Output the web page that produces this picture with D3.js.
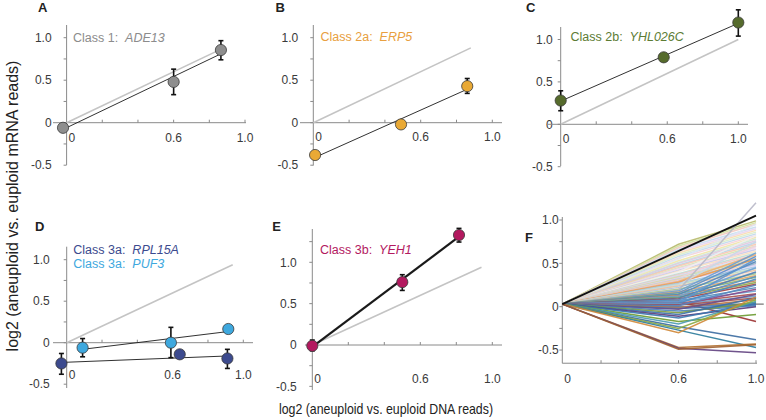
<!DOCTYPE html>
<html><head><meta charset="utf-8">
<script src="https://cdn.jsdelivr.net/npm/d3@7/dist/d3.min.js"></script>
<style>
body{margin:0;background:#fff;}
svg{display:block;font-family:"Liberation Sans",Arial,Helvetica,sans-serif;}
</style>
</head><body>
<svg id="chart" width="766" height="420"></svg>
<script>
// ---------------- DATA ----------------
const xTickLabels = ["0", "0.6", "1.0"];
const xTickValues = [0, 0.6, 1.0];
const yTickLabels = ["-0.5", "0", "0.5", "1.0"];
const yTickValues = [-0.5, 0, 0.5, 1.0];
const yMinorTicks = [-0.5, -0.25, 0, 0.25, 0.5, 0.75, 1.0, 1.25];
const xMinorTicks = [0.2, 0.4, 0.6, 0.8, 1.0];

const panelLetters = ["A", "B", "C", "D", "E", "F"];

// Panel A  Class 1: ADE13
const aX  = [-0.02, 0.60, 0.865];
const aY  = [-0.06, 0.48, 0.855];
const aLo = [null, 0.33, 0.74];
const aHi = [null, 0.63, 0.965];
// Panel B  Class 2a: ERP5
const bX  = [0.01, 0.49, 0.86];
const bY  = [-0.38, -0.02, 0.43];
const bLo = [-0.43, null, 0.345];
const bHi = [-0.34, null, 0.52];
// Panel C  Class 2b: YHL026C
const cX  = [0.0, 0.58, 1.0];
const cY  = [0.28, 0.79, 1.20];
const cLo = [0.16, null, 1.04];
const cHi = [0.395, null, 1.35];
// Panel D  Class 3a: RPL15A
const d1X  = [-0.03, 0.64, 0.91];
const d1Y  = [-0.25, -0.14, -0.19];
const d1Lo = [-0.38, null, -0.31];
const d1Hi = [-0.13, null, -0.08];
// Panel D  Class 3a: PUF3
const d2X  = [0.09, 0.59, 0.915];
const d2Y  = [-0.06, 0.0, 0.165];
const d2Lo = [-0.17, -0.18, null];
const d2Hi = [0.05, 0.185, null];
// Panel E  Class 3b: YEH1
const eX  = [0.0, 0.50, 0.815];
const eY  = [-0.01, 0.76, 1.33];
const eLo = [-0.07, 0.66, 1.245];
const eHi = [0.06, 0.85, 1.41];

// identity (y = x) reference line end per panel A..E
const identityEnd = [0.86, 0.88, 1.0, 0.94, 0.94];

// Panel F: all genes, value at DNA 0, 0.6, 1.0
const fX = [0, 0.6, 1.0];
const fStart = 0.03;
const fAt06 = [0.72,0.70,0.68,0.66,0.64,0.62,0.60,0.58,0.56,0.55,0.53,0.51,0.50,0.48,0.47,0.45,0.44,0.42,0.41,0.40,
  0.38,0.37,0.36,0.35,0.34,0.33,0.32,0.31,0.30,0.29,0.28,0.27,0.26,0.25,0.24,0.22,0.21,0.20,0.19,0.18,
  0.17,0.16,0.15,0.14,0.13,0.12,0.11,0.10,0.09,0.08,0.07,0.06,0.06,0.05,0.04,0.04,0.03,0.02,0.02,0.01,
  0.00,-0.01,-0.02,-0.03,-0.05,-0.07,-0.09,-0.11,-0.13,-0.17,-0.20,-0.23,-0.25,-0.27,-0.30,-0.47,-0.48,-0.49];
const fAt10 = [0.99,0.97,0.95,0.92,0.90,0.88,0.86,0.84,0.82,0.95,0.80,0.78,0.76,0.74,0.72,0.70,0.68,0.66,0.64,0.82,
  0.62,0.60,0.58,0.56,0.54,0.70,0.52,0.50,0.48,0.60,0.55,0.46,0.44,0.75,0.42,0.50,0.40,0.38,1.20,0.62,
  0.36,0.58,0.34,0.52,0.30,0.45,0.28,0.40,0.26,0.35,0.22,-0.17,0.18,0.55,0.15,0.32,0.12,0.20,0.10,0.25,
  0.03,0.08,0.02,0.14,0.01,0.05,0.10,0.00,0.04,-0.09,0.06,-0.38,0.08,-0.47,0.11,-0.43,-0.53,-0.44];
const fColors = ["#b7b96c","#cfe0a0","#f2c9c0","#c6dcf0","#e8d4f0","#f8dcb0","#d8ecc8","#c0d8ec","#f4d0d8","#dde8f4",
  "#f0e4a8","#cce4d8","#e0c8e0","#b8d4e8","#f8c8b0","#d4e4b0","#f0d8e8","#c8c8ec","#f8e0c0","#f0f0f0",
  "#bcdcd0","#f4c4c4","#d0e0f4","#e4d0b8","#c4e0b4","#f0d0e0","#b4cce4","#f8d4a0","#dcc8ec","#f0b070",
  "#e89850","#a8c8e8","#c0dcc0","#c8d8e8","#e8c0a0","#90b8d8","#f4dcd0","#a0c890","#b8b8c8","#6a9fd0",
  "#e0a868","#5b8fc8","#88b070","#4f86c0","#c08858","#6aa0d8","#8aa848","#4a7fb8","#a04040","#5890c8",
  "#508ab8","#9a3030","#6aa0d0","#5f95cf","#a85050","#4c88c4","#70a0c8","#884888","#a05050","#5888c0",
  "#4878b0","#c07840","#3d6fa8","#6a4a8a","#4a80b8","#7a9a40","#3a70a8","#5a3a7a","#3a78b0","#6a9a30",
  "#4a9ab0","#3a6aa0","#8aaa40","#2a7a9a","#d08838","#b07030","#604080","#a06030"];
const fBlackEnd = 1.05;

// ---------------- LAYOUT ----------------
const svg = d3.select("#chart");
const AX = "#8a8a8a";

function mkPanel(p){
  const x = d3.scaleLinear().domain([0,1]).range([p.x0, p.x1]);
  const y = d3.scaleLinear().domain([0,1]).range([p.y0, p.y0 - p.unit]);
  const g = svg.append("g");
  // y axis line
  g.append("line").attr("x1", x(0)).attr("x2", x(0)).attr("y1", p.yTop).attr("y2", p.yBot)
    .attr("stroke", AX).attr("stroke-width", 1);
  // y minor ticks
  yMinorTicks.filter(v => y(v) >= p.yTop - 1 && y(v) <= p.yBot + 1).forEach(v => {
    g.append("line").attr("x1", x(0) - 3).attr("x2", x(0)).attr("y1", y(v)).attr("y2", y(v))
      .attr("stroke", AX).attr("stroke-width", 1);
  });
  // y tick labels
  yTickValues.forEach((v,i) => {
    g.append("text").attr("x", x(0) - p.yGap).attr("y", y(v)).attr("dy", "0.35em")
      .attr("text-anchor", "end").attr("font-size", 12).attr("fill", "#3a3a3a").text(yTickLabels[i]);
  });
  // x axis line
  const xAxisY = p.xAxisVal === undefined ? y(0) : y(p.xAxisVal);
  g.append("line").attr("x1", p.xFrom).attr("x2", p.xTo).attr("y1", xAxisY).attr("y2", xAxisY)
    .attr("stroke", AX).attr("stroke-width", 1);
  xMinorTicks.forEach(v => {
    g.append("line").attr("x1", x(v)).attr("x2", x(v)).attr("y1", xAxisY).attr("y2", xAxisY - 3)
      .attr("stroke", AX).attr("stroke-width", 1);
  });
  xTickValues.forEach((v,i) => {
    g.append("text").attr("x", v === 0 ? x(0) + 2 : x(v)).attr("y", xAxisY + p.xLabOff).attr("dy", "0.35em")
      .attr("text-anchor", v === 0 ? "start" : "middle").attr("font-size", 12).attr("fill", "#3a3a3a")
      .text(xTickLabels[i]);
  });
  // panel letter
  svg.append("text").attr("x", p.lx).attr("y", p.ly).attr("font-size", 13).attr("font-weight", "bold")
    .attr("fill", "#222").text(p.letter);
  return {x, y, g};
}

function identity(P, end){
  P.g.append("line").attr("x1", P.x(0)).attr("y1", P.y(0)).attr("x2", P.x(end)).attr("y2", P.y(end))
    .attr("stroke", "#c4c4c4").attr("stroke-width", 1.6);
}
function fit(P, xs, ys, w){
  const mx = d3.mean(xs), my = d3.mean(ys);
  const sxy = d3.sum(xs.map((v,i) => (v - mx) * (ys[i] - my)));
  const sxx = d3.sum(xs.map(v => (v - mx) * (v - mx)));
  const b = sxy / sxx, a = my - b * mx;
  const x1 = d3.min(xs), x2 = d3.max(xs);
  P.g.append("line").attr("x1", P.x(x1)).attr("y1", P.y(a + b*x1)).attr("x2", P.x(x2)).attr("y2", P.y(a + b*x2))
    .attr("stroke", "#1a1a1a").attr("stroke-width", w);
}
function points(P, xs, ys, lo, hi, col){
  xs.forEach((v,i) => {
    if (lo[i] !== null){
      const cx = P.x(v);
      P.g.append("line").attr("x1", cx).attr("x2", cx).attr("y1", P.y(lo[i])).attr("y2", P.y(hi[i]))
        .attr("stroke", "#111").attr("stroke-width", 1.6);
      [lo[i], hi[i]].forEach(e => P.g.append("line").attr("x1", cx - 2.5).attr("x2", cx + 2.5)
        .attr("y1", P.y(e)).attr("y2", P.y(e)).attr("stroke", "#111").attr("stroke-width", 1.6));
    }
  });
  P.g.selectAll(null).data(xs).enter().append("circle")
    .attr("cx", d => P.x(d)).attr("cy", (d,i) => P.y(ys[i])).attr("r", 5.6)
    .attr("fill", col).attr("stroke", "#3a3a3a").attr("stroke-width", 0.8);
}
function label(P, px, py, cls, gene, col){
  const t = P.g.append("text").attr("x", px).attr("y", py).attr("font-size", 12.5).attr("fill", col);
  t.append("tspan").text(cls + "\u00a0\u00a0");
  t.append("tspan").attr("font-style", "italic").text(gene);
}

// Panel A
const PA = mkPanel({x0:66.6, x1:245, y0:122.7, unit:85, yTop:25, yBot:165, yGap:15,
  xFrom:53, xTo:246, xLabOff:15, lx:38, ly:12, letter:panelLetters[0]});
identity(PA, identityEnd[0]);
fit(PA, aX, aY, 0.9);
points(PA, aX, aY, aLo, aHi, "#8e8e8e");
label(PA, 73, 41.5, "Class 1:", "ADE13", "#8c8c8c");

// Panel B
const PB = mkPanel({x0:313.3, x1:492.3, y0:122.7, unit:85, yTop:25, yBot:165.5, yGap:15,
  xFrom:300, xTo:502, xLabOff:14, lx:275.5, ly:12, letter:panelLetters[1]});
identity(PB, identityEnd[1]);
fit(PB, bX, bY, 0.9);
points(PB, bX, bY, bLo, bHi, "#e9a935");
label(PB, 320.5, 40.5, "Class 2a:", "ERP5", "#e8a040");

// Panel C
const PC = mkPanel({x0:560.7, x1:738.3, y0:124.3, unit:84.8, yTop:27, yBot:166, yGap:8,
  xFrom:547, xTo:748, xLabOff:14, lx:526, ly:12, letter:panelLetters[2]});
identity(PC, identityEnd[2]);
fit(PC, cX, cY, 0.9);
points(PC, cX, cY, cLo, cHi, "#566b2c");
label(PC, 570.5, 41, "Class 2b:", "YHL026C", "#5c7c34");

// Panel D
const PD = mkPanel({x0:66.7, x1:243.3, y0:342.7, unit:83, yTop:246.7, yBot:388, yGap:17,
  xFrom:53, xTo:253, xLabOff:32, lx:35, ly:231, letter:panelLetters[3]});
identity(PD, identityEnd[3]);
fit(PD, d1X, d1Y, 0.9);
fit(PD, d2X, d2Y, 0.9);
points(PD, d1X, d1Y, d1Lo, d1Hi, "#3c4a8e");
points(PD, d2X, d2Y, d2Lo, d2Hi, "#3ea8de");
label(PD, 73.3, 254.3, "Class 3a:", "RPL15A", "#3c4a8e");
label(PD, 73.3, 268.3, "Class 3a:", "PUF3", "#3ea8de");

// Panel E
const PE = mkPanel({x0:312.3, x1:492.3, y0:345, unit:82.7, yTop:229, yBot:390, yGap:15.5,
  xFrom:305, xTo:502, xLabOff:34, lx:272.3, ly:231, letter:panelLetters[4]});
identity(PE, identityEnd[4]);
fit(PE, eX, eY, 2.2);
points(PE, eX, eY, eLo, eHi, "#b3195f");
label(PE, 320, 254.3, "Class 3b:", "YEH1", "#b3195f");

// Panel F
const PF = mkPanel({x0:562.3, x1:756, y0:306.7, unit:86.7, yTop:217, yBot:363.3, yGap:3.5,
  xFrom:562.3, xTo:757, xLabOff:16, xAxisVal:-0.652, lx:525, ly:242, letter:panelLetters[5]});
PF.g.append("line").attr("x1", PF.x(0)).attr("x2", PF.x(1.04)).attr("y1", PF.y(fStart)).attr("y2", PF.y(fStart))
  .attr("stroke", "#555").attr("stroke-width", 1);
const fLine = d3.line().x(d => PF.x(d[0])).y(d => PF.y(d[1]));
fAt06.forEach((v,i) => {
  PF.g.append("path").attr("d", fLine([[fX[0], fStart],[fX[1], v],[fX[2], fAt10[i]]]))
    .attr("fill", "none").attr("stroke", fColors[i]).attr("stroke-width", 1.5).attr("stroke-opacity", 0.9);
});
PF.g.append("path").attr("d", fLine([[fX[0], fStart],[fX[2], fBlackEnd]]))
  .attr("fill", "none").attr("stroke", "#111").attr("stroke-width", 1.8);

// Axis titles
svg.append("text").attr("transform", "translate(18,206) rotate(-90)").attr("text-anchor", "middle")
  .attr("font-size", 16).attr("fill", "#222").text("log2 (aneuploid vs. euploid mRNA reads)");
svg.append("text").attr("x", 279).attr("y", 414).attr("font-size", 15)
  .attr("textLength", 214).attr("lengthAdjust", "spacingAndGlyphs")
  .attr("fill", "#222").text("log2 (aneuploid vs. euploid DNA reads)");
</script>
</body></html>
